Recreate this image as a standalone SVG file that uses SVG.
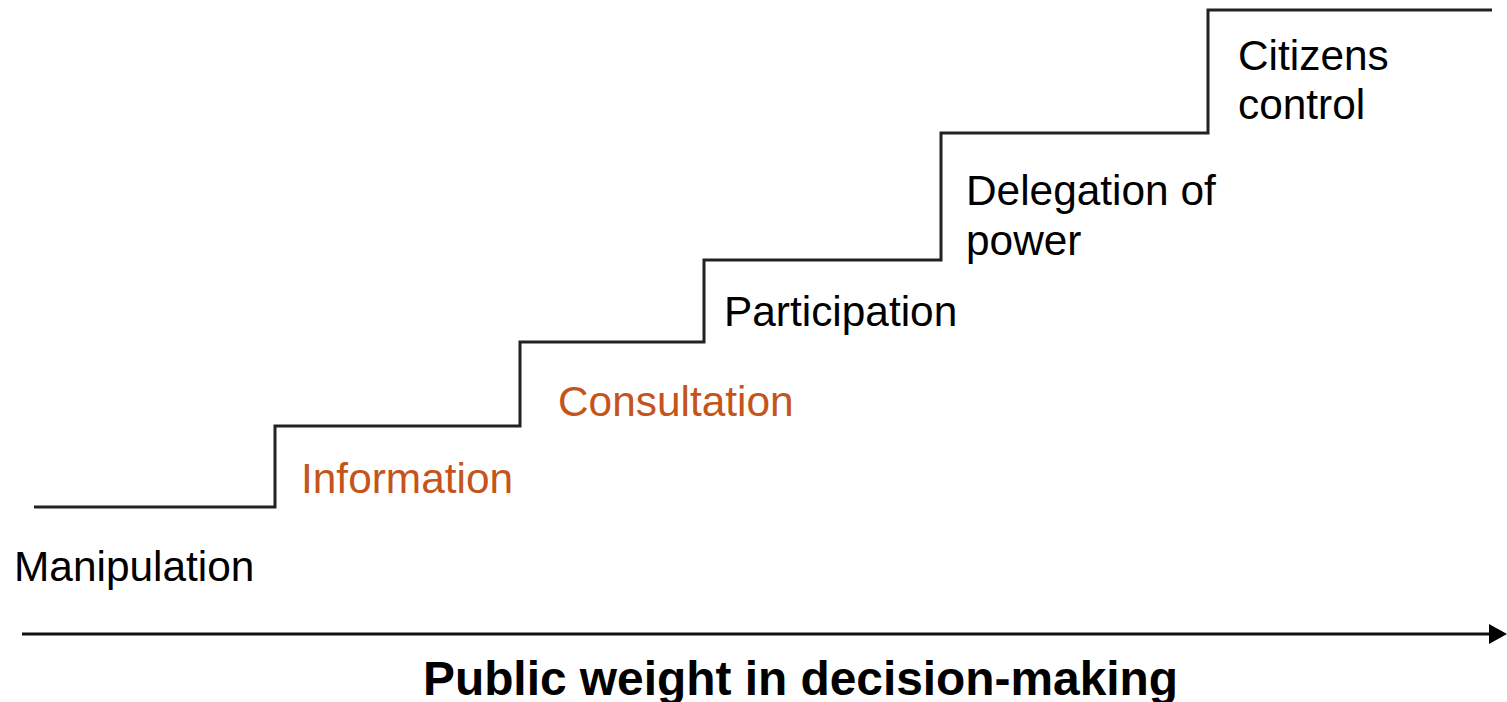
<svg xmlns="http://www.w3.org/2000/svg" width="1507" height="702" viewBox="0 0 1507 702">
<style>
.lbl{font-family:"Liberation Sans",Arial,sans-serif;font-size:42.4px;fill:#000}
.org{fill:#C5541A}
.title{font-family:"Liberation Sans",Arial,sans-serif;font-size:48px;font-weight:bold;fill:#000}
.stair{fill:none;stroke:#222;stroke-width:3}
.axis{stroke:#111;stroke-width:3}
</style>
<defs>
<marker id="ah" markerWidth="18" markerHeight="22" refX="0" refY="11" orient="auto" markerUnits="userSpaceOnUse">
<path d="M0,1 L18,11 L0,21 Z" fill="#000"/>
</marker>
</defs>
<rect width="1507" height="702" fill="#fff"/>
<g id="connectors">
<path id="staircase" class="stair" d="M34,507 H275 V426 H520 V342 H704 V260 H941 V133 H1208 V10 H1492"/>
<line id="axis" class="axis" x1="22" y1="634" x2="1489" y2="634" marker-end="url(#ah)"/>
</g>
<g id="manipulation"><text class="lbl" x="14" y="581">Manipulation</text></g>
<g id="information"><text class="lbl org" x="301" y="493">Information</text></g>
<g id="consultation"><text class="lbl org" x="558" y="416">Consultation</text></g>
<g id="participation"><text class="lbl" x="724" y="326">Participation</text></g>
<g id="delegation"><text class="lbl" x="966" y="205">Delegation of</text><text class="lbl" x="966" y="255">power</text></g>
<g id="citizens"><text class="lbl" x="1238" y="70">Citizens</text><text class="lbl" x="1238" y="119">control</text></g>
<g id="title"><text class="title" x="423" y="695" textLength="755" lengthAdjust="spacingAndGlyphs">Public weight in decision-making</text></g>
</svg>
